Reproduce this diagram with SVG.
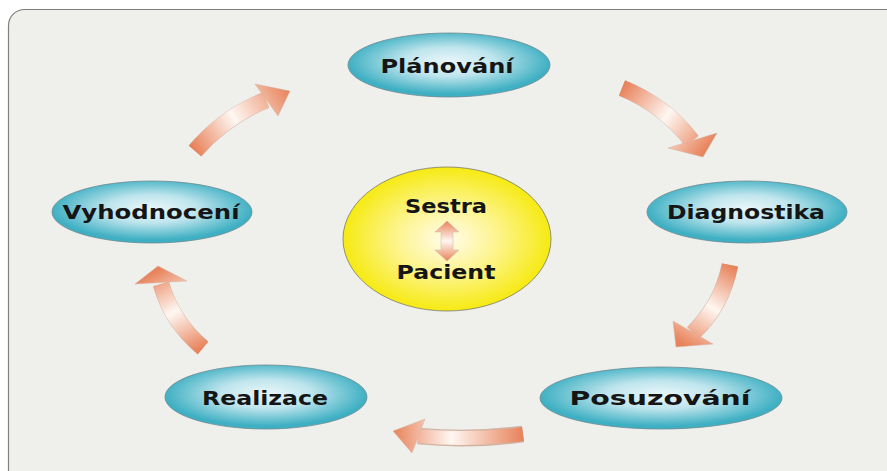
<svg xmlns="http://www.w3.org/2000/svg" width="887" height="471" viewBox="0 0 887 471">
<defs>
<radialGradient id="teal" cx="0.5" cy="0.45" r="0.5">
<stop offset="0" stop-color="#eaf7fa"/>
<stop offset="0.45" stop-color="#bfe5ed"/>
<stop offset="1" stop-color="#3fb0c3"/>
</radialGradient>
<radialGradient id="yellow" cx="0.5" cy="0.5" r="0.5">
<stop offset="0" stop-color="#fffcec"/>
<stop offset="0.5" stop-color="#fdf48a"/>
<stop offset="1" stop-color="#f6ea12"/>
</radialGradient>
<linearGradient id="g1" gradientUnits="userSpaceOnUse" x1="195" y1="151" x2="290" y2="91">
<stop offset="0" stop-color="#e8825a"/><stop offset="0.45" stop-color="#fef7f2"/><stop offset="1" stop-color="#e8825a"/>
</linearGradient>
<linearGradient id="g2" gradientUnits="userSpaceOnUse" x1="622" y1="88" x2="705" y2="152">
<stop offset="0" stop-color="#e8825a"/><stop offset="0.5" stop-color="#fef7f2"/><stop offset="1" stop-color="#e8825a"/>
</linearGradient>
<linearGradient id="g3" gradientUnits="userSpaceOnUse" x1="730" y1="265" x2="684" y2="345">
<stop offset="0" stop-color="#e8825a"/><stop offset="0.5" stop-color="#fef7f2"/><stop offset="1" stop-color="#e8825a"/>
</linearGradient>
<linearGradient id="g4" gradientUnits="userSpaceOnUse" x1="523" y1="434" x2="393" y2="434">
<stop offset="0" stop-color="#e8825a"/><stop offset="0.55" stop-color="#fef7f2"/><stop offset="1" stop-color="#e8825a"/>
</linearGradient>
<linearGradient id="g5" gradientUnits="userSpaceOnUse" x1="203" y1="348" x2="160" y2="268">
<stop offset="0" stop-color="#e8825a"/><stop offset="0.5" stop-color="#fef7f2"/><stop offset="1" stop-color="#e8825a"/>
</linearGradient>
<linearGradient id="g6" gradientUnits="userSpaceOnUse" x1="0" y1="221" x2="0" y2="261">
<stop offset="0" stop-color="#e8825a"/><stop offset="0.5" stop-color="#fef7f2"/><stop offset="1" stop-color="#e8825a"/>
</linearGradient>
</defs>
<style>
.node{fill:url(#teal);stroke:#6f8a92;stroke-width:0.8}
.lbl{font-family:"DejaVu Sans",sans-serif;font-weight:bold;font-size:20px;fill:#151515;text-anchor:middle}
.under{fill:none;stroke:#d2b2a2;stroke-width:16.8}
.head{stroke:#d2b2a2;stroke-width:0.5}
</style>
<rect width="887" height="471" fill="#ffffff"/>
<rect x="8.5" y="9.5" width="900" height="480" rx="16" fill="#efefeb" stroke="#808080" stroke-width="1.2"/>

<g id="connectors">
<g id="arrow-vyhodnoceni-planovani">
<path class="under" d="M195,151 Q224,117 266,100"/>
<path d="M195,151 Q224,117 266,100" fill="none" stroke="url(#g1)" stroke-width="16"/>
<polygon class="head" points="255,84 290,91 278,116" fill="url(#g1)"/>
</g>
<g id="arrow-planovani-diagnostika">
<path class="under" d="M622,88 Q664,105 692,141"/>
<path d="M622,88 Q664,105 692,141" fill="none" stroke="url(#g2)" stroke-width="16"/>
<polygon class="head" points="668,148 703,157 717,133" fill="url(#g2)"/>
</g>
<g id="arrow-diagnostika-posuzovani">
<path class="under" d="M730,265 Q722,305 693,333"/>
<path d="M730,265 Q722,305 693,333" fill="none" stroke="url(#g3)" stroke-width="16"/>
<polygon class="head" points="673,321 676,347 713,344" fill="url(#g3)"/>
</g>
<g id="arrow-posuzovani-realizace">
<path class="under" d="M523,434 Q470,441 418,436" stroke-width="14.8"/>
<path d="M523,434 Q470,441 418,436" fill="none" stroke="url(#g4)" stroke-width="14"/>
<polygon class="head" points="425,419 393,431 412,453" fill="url(#g4)"/>
</g>
<g id="arrow-realizace-vyhodnoceni">
<path class="under" d="M203,348 Q172,322 161,284"/>
<path d="M203,348 Q172,322 161,284" fill="none" stroke="url(#g5)" stroke-width="16"/>
<polygon class="head" points="135,284 158,266 187,281" fill="url(#g5)"/>
</g>
</g>

<g id="node-planovani">
<ellipse class="node" cx="449" cy="65" rx="101" ry="32"/>
<text class="lbl" x="447" y="73" textLength="133" lengthAdjust="spacingAndGlyphs">Plánování</text>
</g>
<g id="node-diagnostika">
<ellipse class="node" cx="747" cy="212" rx="100" ry="31"/>
<text class="lbl" x="746" y="219" textLength="158" lengthAdjust="spacingAndGlyphs">Diagnostika</text>
</g>
<g id="node-posuzovani">
<ellipse class="node" cx="661" cy="398" rx="121" ry="31"/>
<text class="lbl" x="660" y="405" textLength="181" lengthAdjust="spacingAndGlyphs">Posuzování</text>
</g>
<g id="node-realizace">
<ellipse class="node" cx="266" cy="397" rx="101" ry="32"/>
<text class="lbl" x="265" y="405" textLength="126" lengthAdjust="spacingAndGlyphs">Realizace</text>
</g>
<g id="node-vyhodnoceni">
<ellipse class="node" cx="152" cy="212" rx="100" ry="31"/>
<text class="lbl" x="151" y="219" textLength="177" lengthAdjust="spacingAndGlyphs">Vyhodnocení</text>
</g>
<g id="node-center">
<ellipse cx="447" cy="239" rx="104" ry="72" fill="url(#yellow)" stroke="#7a7a6a" stroke-width="0.8"/>
<text class="lbl" x="446" y="213" textLength="82" lengthAdjust="spacingAndGlyphs">Sestra</text>
<text class="lbl" x="446" y="279" textLength="99" lengthAdjust="spacingAndGlyphs">Pacient</text>
<polygon points="447,221 459,232 453,232 453,250 459,250 447,261 435,250 441,250 441,232 435,232" fill="url(#g6)" stroke="#d2b2a2" stroke-width="0.5"/>
</g>
</svg>
